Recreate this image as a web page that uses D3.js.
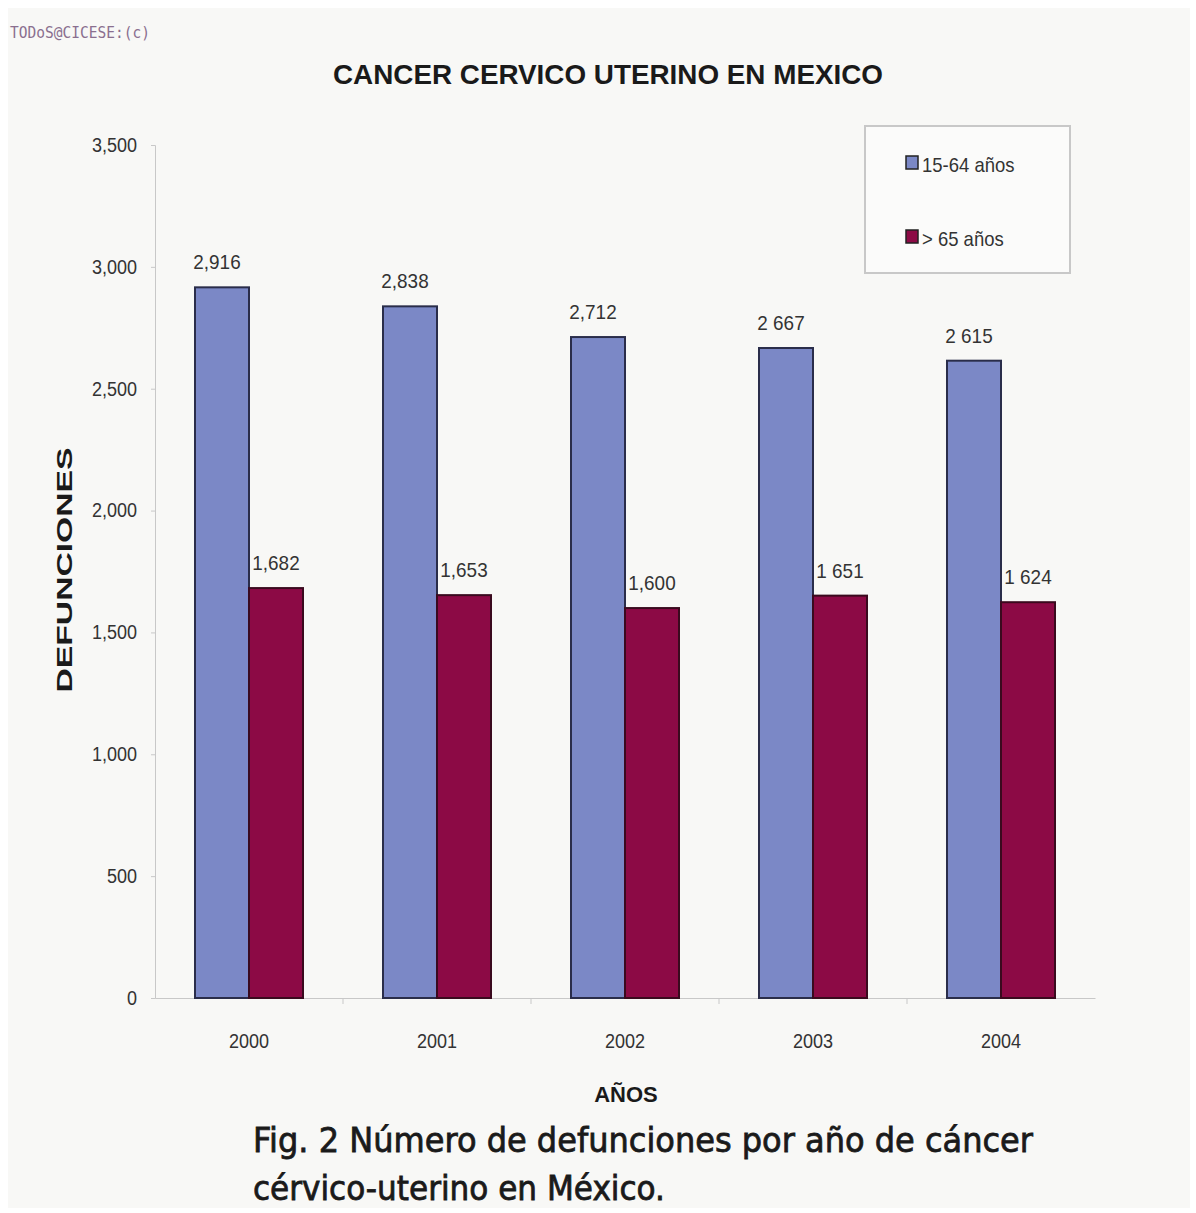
<!DOCTYPE html>
<html>
<head>
<meta charset="utf-8">
<script src="https://cdn.jsdelivr.net/npm/d3@7"></script>
<style>
body{margin:0;background:#fff;}
svg{display:block;}
</style>
</head>
<body>
<svg id="chart" width="1196" height="1213"></svg>
<script>
let years=["2000","2001","2002","2003","2004"]
let young=[2916,2838,2712,2667,2615]
let old=[1682,1653,1600,1651,1624]
let youngLabels=["2,916","2,838","2,712","2 667","2 615"]
let oldLabels=["1,682","1,653","1,600","1 651","1 624"]
let seriesNames=["15-64 años","> 65 años"]
let yTicks=[0,500,1000,1500,2000,2500,3000,3500]

let svg=d3.select("#chart")
svg.append("rect").attr("x",8).attr("y",8).attr("width",1182).attr("height",1200).attr("fill","#f8f8f6")

let x=d3.scaleBand().domain(years).range([155,1095]).paddingInner(0).paddingOuter(0)
let inner=d3.scaleBand().domain([0,1]).range([0,108])
let y=d3.scaleLinear().domain([0,3500]).range([998,145])

let lblFont="Liberation Sans Narrow, Liberation Sans, sans-serif"

// axes
let yAxis=svg.append("g").attr("transform","translate(155,0)")
	.call(d3.axisLeft(y).tickValues(yTicks).tickFormat(d3.format(",")).tickSize(4).tickPadding(14))
yAxis.select(".domain").attr("stroke","#c8c8c8")
yAxis.selectAll(".tick line").attr("stroke","#c8c8c8")
yAxis.selectAll("text").attr("font-family",lblFont).attr("font-size",20).attr("fill","#333")
	.attr("textLength",function(){return this.getComputedTextLength()*0.9}).attr("lengthAdjust","spacingAndGlyphs")

let xAxis=svg.append("g").attr("transform","translate(0,998)")
	.call(d3.axisBottom(x).tickSize(0).tickPadding(36))
xAxis.select(".domain").attr("stroke","#c8c8c8")
xAxis.selectAll("text").attr("font-family",lblFont).attr("font-size",20).attr("fill","#333")
	.attr("textLength",function(){return this.getComputedTextLength()*0.9}).attr("lengthAdjust","spacingAndGlyphs")
// boundary ticks
svg.append("g").selectAll("line").data(years.slice(1))
	.enter().append("line")
	.attr("x1",d=>x(d)).attr("x2",d=>x(d))
	.attr("y1",998).attr("y2",1004)
	.attr("stroke","#c8c8c8")

let off=(x.bandwidth()-108)/2
let g=svg.append("g")
g.selectAll(".young").data(young).enter().append("rect")
	.attr("x",(d,i)=>x(years[i])+off+inner(0))
	.attr("y",d=>y(d))
	.attr("width",inner.bandwidth())
	.attr("height",d=>y(0)-y(d))
	.attr("fill","#7b88c6").attr("stroke","#2a2d4a").attr("stroke-width",2)
g.selectAll(".old").data(old).enter().append("rect")
	.attr("x",(d,i)=>x(years[i])+off+inner(1))
	.attr("y",d=>y(d))
	.attr("width",inner.bandwidth())
	.attr("height",d=>y(0)-y(d))
	.attr("fill","#8c0a45").attr("stroke","#3a0a1e").attr("stroke-width",2)

g.selectAll(".yl").data(young).enter().append("text")
	.attr("x",(d,i)=>x(years[i])+off+inner(0)+inner.bandwidth()/2-5)
	.attr("y",d=>y(d)-18)
	.attr("text-anchor","middle").attr("font-family",lblFont).attr("font-size",21).attr("fill","#333")
	.text((d,i)=>youngLabels[i])
	.attr("textLength",function(){return this.getComputedTextLength()*0.9}).attr("lengthAdjust","spacingAndGlyphs")
g.selectAll(".ol").data(old).enter().append("text")
	.attr("x",(d,i)=>x(years[i])+off+inner(1)+inner.bandwidth()/2)
	.attr("y",d=>y(d)-18)
	.attr("text-anchor","middle").attr("font-family",lblFont).attr("font-size",21).attr("fill","#333")
	.text((d,i)=>oldLabels[i])
	.attr("textLength",function(){return this.getComputedTextLength()*0.9}).attr("lengthAdjust","spacingAndGlyphs")

// legend
let leg=svg.append("g")
leg.append("rect").attr("x",865).attr("y",126).attr("width",205).attr("height",147)
	.attr("fill","#fbfbfa").attr("stroke","#c8c8c8").attr("stroke-width",2)
let legColors=["#7b88c6","#8c0a45"]
seriesNames.forEach(function(n,i){
	let ly=164+i*74
	leg.append("rect").attr("x",906).attr("y",ly-8).attr("width",12).attr("height",13)
		.attr("fill",legColors[i]).attr("stroke","#222").attr("stroke-width",1.5)
	leg.append("text").attr("x",922).attr("y",ly+8).attr("font-family",lblFont).attr("font-size",21).attr("fill","#333").text(n)
		.attr("textLength",function(){return this.getComputedTextLength()*0.88}).attr("lengthAdjust","spacingAndGlyphs")
})

// titles
svg.append("text").attr("x",608).attr("y",84).attr("text-anchor","middle")
	.attr("font-family","Liberation Sans, Arial, sans-serif").attr("font-weight","bold").attr("font-size",28)
	.attr("textLength",550).attr("lengthAdjust","spacingAndGlyphs").attr("fill","#1a1a1a")
	.text("CANCER CERVICO UTERINO EN MEXICO")
svg.append("text").attr("transform","translate(72,570) rotate(-90)").attr("text-anchor","middle")
	.attr("font-family","Liberation Sans, Arial, sans-serif").attr("font-weight","bold").attr("font-size",22)
	.attr("textLength",245).attr("lengthAdjust","spacingAndGlyphs").attr("fill","#1a1a1a")
	.text("DEFUNCIONES")
svg.append("text").attr("x",626).attr("y",1102).attr("text-anchor","middle")
	.attr("font-family","Liberation Sans, Arial, sans-serif").attr("font-weight","bold").attr("font-size",22)
	.attr("fill","#1a1a1a").text("AÑOS")

// caption
svg.append("text").attr("x",253).attr("y",1152)
	.attr("font-family","DejaVu Sans, sans-serif").attr("font-size",33)
	.attr("stroke","#1a1a1a").attr("stroke-width",0.8)
	.attr("textLength",780).attr("lengthAdjust","spacingAndGlyphs").attr("fill","#1a1a1a")
	.text("Fig. 2  Número de defunciones por año de cáncer")
svg.append("text").attr("x",253).attr("y",1200)
	.attr("font-family","DejaVu Sans, sans-serif").attr("font-size",33)
	.attr("stroke","#1a1a1a").attr("stroke-width",0.8)
	.attr("textLength",412).attr("lengthAdjust","spacingAndGlyphs").attr("fill","#1a1a1a")
	.text("cérvico-uterino en México.")

// watermark
svg.append("text").attr("x",10).attr("y",38)
	.attr("font-family","DejaVu Sans Mono, monospace").attr("font-size",15)
	.attr("textLength",140).attr("lengthAdjust","spacingAndGlyphs")
	.attr("fill","#8a6f8f").text("TODoS@CICESE:(c)")
</script>
</body>
</html>
